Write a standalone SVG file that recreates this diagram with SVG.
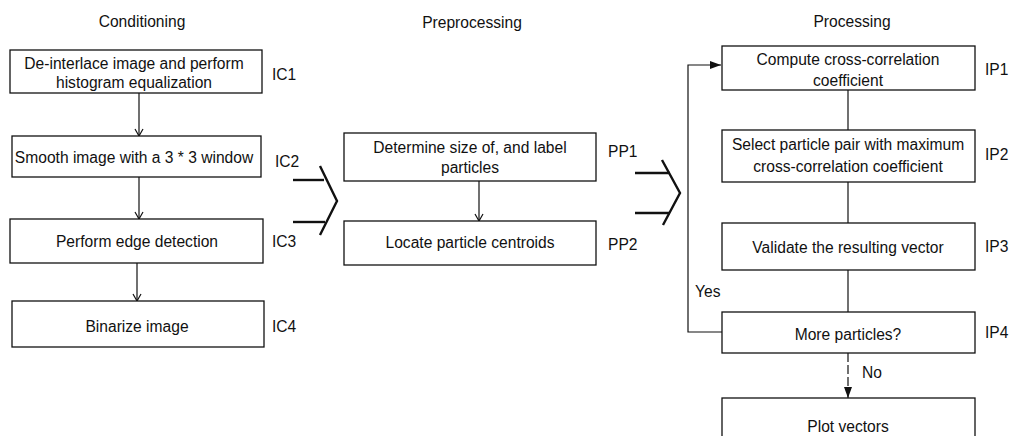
<svg xmlns="http://www.w3.org/2000/svg" width="1011" height="436" viewBox="0 0 1011 436">
<style>
text{font-family:"Liberation Sans",Arial,sans-serif;font-size:15.6px;fill:#111}
.c{text-anchor:middle}
.box{fill:#fff;stroke:#111;stroke-width:1.3}
.ln{fill:none;stroke:#111;stroke-width:1.2}
.chev{fill:none;stroke:#111;stroke-width:2.4}
</style>
<defs>
<marker id="open" markerWidth="10" markerHeight="10" refX="9" refY="5" orient="auto" markerUnits="userSpaceOnUse" viewBox="0 0 10 10">
<path d="M2,1 L9,5 L2,9" fill="none" stroke="#111" stroke-width="1.2"/>
</marker>
<marker id="fill" markerWidth="12" markerHeight="12" refX="11" refY="6" orient="auto" markerUnits="userSpaceOnUse" viewBox="0 0 12 12">
<path d="M0,2 L11,6 L0,10 Z" fill="#111"/>
</marker>
</defs>
<text class="c" x="142" y="27">Conditioning</text>
<text class="c" x="472" y="28">Preprocessing</text>
<text class="c" x="852" y="27">Processing</text>
<g id="connectors">
<line class="ln" x1="139" y1="93" x2="139" y2="136" marker-end="url(#open)"/>
<line class="ln" x1="139" y1="177" x2="139" y2="219" marker-end="url(#open)"/>
<line class="ln" x1="137" y1="263" x2="137" y2="301" marker-end="url(#open)"/>
<line class="ln" x1="479" y1="181" x2="479" y2="221" marker-end="url(#open)"/>
<line class="ln" x1="848" y1="90" x2="848" y2="130"/>
<line class="ln" x1="848" y1="182" x2="848" y2="223"/>
<line class="ln" x1="848" y1="270" x2="848" y2="312"/>
<polyline class="ln" points="722,332 688,332 688,65 721,65" marker-end="url(#fill)"/>
<line class="ln" x1="848" y1="353" x2="848" y2="398" stroke-dasharray="9,3" marker-end="url(#fill)"/>
<text x="695" y="297">Yes</text>
<text x="862" y="378">No</text>
<line class="chev" x1="293" y1="180" x2="324" y2="180"/>
<line class="chev" x1="293" y1="222" x2="325" y2="222"/>
<polyline class="chev" points="320,166 337,201 320,235"/>
<line class="chev" x1="635" y1="173" x2="670" y2="173"/>
<line class="chev" x1="635" y1="213" x2="670" y2="213"/>
<polyline class="chev" points="662,160 680,193 663,225"/>
</g>
<g id="IC1"><rect class="box" x="10" y="50" width="252" height="43"/><text class="c" x="134" y="69">De-interlace image and perform</text><text class="c" x="134" y="88">histogram equalization</text><text x="272" y="80">IC1</text></g>
<g id="IC2"><rect class="box" x="12" y="136" width="249" height="41"/><text class="c" x="134" y="163">Smooth image with a 3 * 3 window</text><text x="275" y="167">IC2</text></g>
<g id="IC3"><rect class="box" x="10" y="219" width="253" height="44"/><text class="c" x="137" y="247">Perform edge detection</text><text x="272" y="247">IC3</text></g>
<g id="IC4"><rect class="box" x="12" y="301" width="252" height="46"/><text class="c" x="137" y="332">Binarize image</text><text x="272" y="332">IC4</text></g>
<g id="PP1"><rect class="box" x="344" y="133" width="252" height="48"/><text class="c" x="470" y="153">Determine size of, and label</text><text class="c" x="470" y="173">particles</text><text x="608" y="157">PP1</text></g>
<g id="PP2"><rect class="box" x="344" y="221" width="252" height="44"/><text class="c" x="470" y="248">Locate particle centroids</text><text x="608" y="250">PP2</text></g>
<g id="IP1"><rect class="box" x="722" y="46" width="253" height="44"/><text class="c" x="848" y="65">Compute cross-correlation</text><text class="c" x="848" y="86">coefficient</text><text x="985" y="75">IP1</text></g>
<g id="IP2"><rect class="box" x="722" y="130" width="253" height="52"/><text class="c" x="848" y="150">Select particle pair with maximum</text><text class="c" x="848" y="172">cross-correlation coefficient</text><text x="985" y="160">IP2</text></g>
<g id="IP3"><rect class="box" x="722" y="223" width="253" height="47"/><text class="c" x="848" y="253">Validate the resulting vector</text><text x="985" y="252">IP3</text></g>
<g id="IP4"><rect class="box" x="722" y="312" width="253" height="41"/><text class="c" x="848" y="340">More particles?</text><text x="985" y="338">IP4</text></g>
<g id="PV"><rect class="box" x="722" y="398" width="253" height="50"/><text class="c" x="848" y="432">Plot vectors</text></g>
</svg>
